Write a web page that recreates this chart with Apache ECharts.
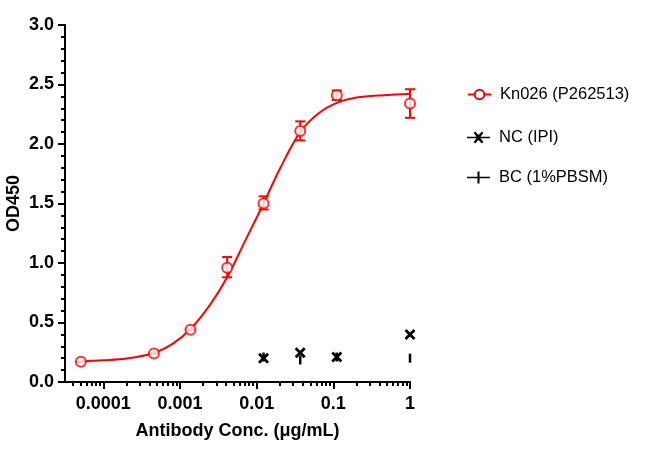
<!DOCTYPE html>
<html>
<head>
<meta charset="utf-8">
<script src="https://cdn.jsdelivr.net/npm/echarts@6/dist/echarts.min.js"></script>
<style>
  html, body { margin: 0; padding: 0; background: #fff; }
  #chart { width: 651px; height: 450px; }
</style>
</head>
<body>
<div id="chart"></div>
<script>
// Concentrations (µg/mL) of the measured wells, 3-fold dilutions
const concKn026 = [0.0000508, 0.000457, 0.00137, 0.00412, 0.0123, 0.037, 0.111, 1];
const meanKn026 = [0.17, 0.24, 0.44, 0.96, 1.50, 2.11, 2.41, 2.34];
const lowKn026 = [0.17, 0.24, 0.44, 0.88, 1.45, 2.03, 2.37, 2.22];
const highKn026 = [0.17, 0.24, 0.44, 1.05, 1.56, 2.19, 2.45, 2.46];

// Fitted curve
const curveConc = [0.0000508, 0.0001, 0.0002, 0.000457, 0.0008, 0.00137, 0.0025, 0.00412,
    0.007, 0.0123, 0.02, 0.037, 0.065, 0.111, 0.2, 0.45, 1];
const curveOD = [0.172, 0.182, 0.197, 0.244, 0.32, 0.445, 0.655, 0.88,
    1.18, 1.50, 1.79, 2.10, 2.26, 2.345, 2.39, 2.41, 2.42];

// Negative control and blank
const concNC = [0.0123, 0.037, 0.111, 1];
const odNC = [0.20, 0.245, 0.21, 0.40];
const concBC = [0.0123, 0.037, 0.111, 1];
const odBC = [0.21, 0.185, 0.21, 0.20];

const xTickValues = [0.0001, 0.001, 0.01, 0.1, 1];
const xTickLabels = ['0.0001', '0.001', '0.01', '0.1', '1'];

const seriesNames = ['Kn026 (P262513)', 'NC (IPI)', 'BC (1%PBSM)'];

const chart = echarts.init(document.getElementById('chart'));

const lg = v => Math.log10(v);
const pairs = (xs, ys) => xs.map((x, i) => [lg(x), ys[i]]);

// minor log ticks 2..9 of each decade inside the axis range
const minorTicks = [];
for (let d = -5; d < 0; d++) {
    for (let k = 2; k <= 9; k++) {
        const v = lg(k * Math.pow(10, d));
        if (v >= -4.5 && v <= 0) minorTicks.push(v);
    }
}
const majorTicks = xTickValues.map(lg);

const font = 'Liberation Sans, Arial, sans-serif';
const red = '#ff0000';
const xSymbol = 'path://M0,1.8L1.8,0L5,3.2L8.2,0L10,1.8L6.8,5L10,8.2L8.2,10L5,6.8L1.8,10L0,8.2L3.2,5Z';
// legend icons: horizontal line with the marker on top
const ncIcon = 'path://M0,5.2H23V6.8H0Z M6.7,1.4L8.1,0L11.5,3.6L14.9,0L16.3,1.4L12.9,6L16.3,10.6L14.9,12L11.5,8.4L8.1,12L6.7,10.6L10.1,6Z';
const bcIcon = 'path://M0,5.2H10.5V0H12.5V5.2H23V6.8H12.5V12H10.5V6.8H0Z';

const legendBase = {
    orient: 'vertical',
    left: 462,
    itemWidth: 23,
    itemHeight: 12,
    textStyle: { fontFamily: font, fontSize: 16.5, color: '#000', padding: [0, 0, 0, 4] }
};

const option = {
    animation: false,
    grid: { left: 65, right: 241, top: 25, bottom: 68, containLabel: false, outerBoundsMode: 'none' },
    legend: [
        Object.assign({}, legendBase, { top: 81, data: [seriesNames[0]] }),
        Object.assign({}, legendBase, { top: 124, data: [{ name: seriesNames[1], icon: ncIcon }] }),
        Object.assign({}, legendBase, { top: 164, data: [{ name: seriesNames[2], icon: bcIcon }] })
    ],
    xAxis: [
        {
            type: 'value',
            min: -4.5,
            max: 0,
            position: 'bottom',
            name: 'Antibody Conc. (μg/mL)',
            nameLocation: 'middle',
            nameGap: 40,
            nameMoveOverlap: false,
            nameTextStyle: { fontFamily: font, fontSize: 18, fontWeight: 'bold', color: '#000' },
            splitLine: { show: false },
            axisLine: { onZero: false, lineStyle: { color: '#000', width: 2 } },
            axisTick: { show: true, customValues: majorTicks, length: 7, lineStyle: { width: 2 } },
            axisLabel: {
                customValues: majorTicks,
                margin: 13,
                fontFamily: font, fontSize: 18, fontWeight: 'bold', color: '#000',
                formatter: v => {
                    const i = majorTicks.findIndex(t => Math.abs(t - v) < 1e-6);
                    return i >= 0 ? xTickLabels[i] : '';
                }
            }
        },
        {
            type: 'value',
            min: -4.5,
            max: 0,
            position: 'bottom',
            offset: 0,
            splitLine: { show: false },
            axisLine: { show: true, onZero: false, lineStyle: { color: '#000', width: 2 } },
            axisTick: { show: true, customValues: minorTicks, length: 4, lineStyle: { color: '#000', width: 2 } },
            axisLabel: { show: false }
        }
    ],
    yAxis: {
        type: 'value',
        min: 0,
        max: 3,
        interval: 0.5,
        name: 'OD450',
        nameLocation: 'middle',
        nameGap: 42,
        nameMoveOverlap: false,
        nameTextStyle: { fontFamily: font, fontSize: 18, fontWeight: 'bold', color: '#000' },
        splitLine: { show: false },
        axisLine: { show: true, onZero: false, lineStyle: { color: '#000', width: 2 } },
        axisTick: { show: true, length: 7, lineStyle: { color: '#000', width: 2 } },
        minorTick: { show: true, splitNumber: 5, length: 4, lineStyle: { color: '#000', width: 2 } },
        axisLabel: {
            margin: 11,
            fontFamily: font, fontSize: 18, fontWeight: 'bold', color: '#000',
            formatter: v => v.toFixed(1)
        }
    },
    series: [
        {
            name: seriesNames[0],
            type: 'line',
            smooth: 0.35,
            showSymbol: false,
            symbol: 'emptyCircle',
            symbolSize: 10,
            itemStyle: { color: red, borderWidth: 2 },
            lineStyle: { color: red, width: 2 },
            data: pairs(curveConc, curveOD),
            z: 2
        },
        {
            type: 'custom',
            data: concKn026.map((c, i) => [lg(c), lowKn026[i], highKn026[i]]),
            encode: { x: 0, y: [1, 2] },
            renderItem: (params, api) => {
                const lo = api.coord([api.value(0), api.value(1)]);
                const hi = api.coord([api.value(0), api.value(2)]);
                const w = 5;
                const style = { stroke: red, lineWidth: 2 };
                return {
                    type: 'group',
                    children: [
                        { type: 'line', shape: { x1: lo[0], y1: lo[1], x2: hi[0], y2: hi[1] }, style },
                        { type: 'line', shape: { x1: lo[0] - w, y1: lo[1], x2: lo[0] + w, y2: lo[1] }, style },
                        { type: 'line', shape: { x1: hi[0] - w, y1: hi[1], x2: hi[0] + w, y2: hi[1] }, style }
                    ]
                };
            },
            z: 3
        },
        {
            type: 'scatter',
            symbol: 'emptyCircle',
            symbolSize: 10,
            itemStyle: { color: red, borderColor: red, borderWidth: 2 },
            data: pairs(concKn026, meanKn026),
            z: 4
        },
        {
            name: seriesNames[2],
            type: 'line',
            symbol: 'rect',
            symbolSize: [2.5, 9],
            itemStyle: { color: '#000' },
            lineStyle: { width: 0, opacity: 0 },
            data: pairs(concBC, odBC),
            z: 5
        },
        {
            name: seriesNames[1],
            type: 'line',
            symbol: xSymbol,
            symbolSize: 11,
            itemStyle: { color: '#000' },
            lineStyle: { width: 0, opacity: 0 },
            data: pairs(concNC, odNC),
            z: 6
        }
    ]
};

chart.setOption(option);
</script>
</body>
</html>
